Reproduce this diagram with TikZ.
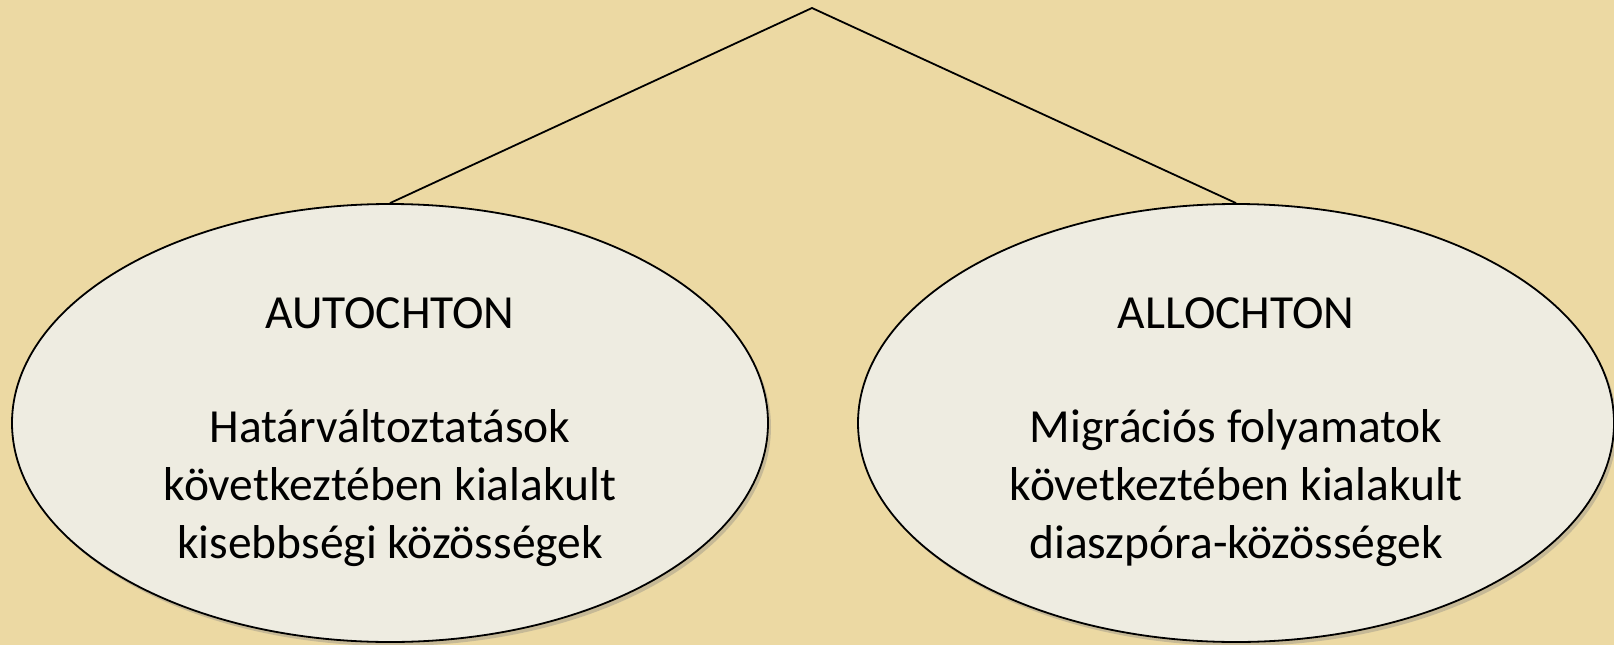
\documentclass[tikz,border=0pt]{standalone}
\usepackage{fontspec}
\setmainfont{Carlito}
\usetikzlibrary{shapes.geometric,shadows}
\definecolor{papyrus}{RGB}{236,217,163}
\definecolor{paper}{RGB}{238,236,225}
\tikzset{
  blob/.style={draw=black,line width=1.8pt,ellipse,fill=paper,minimum width=756pt,minimum height=438pt,inner sep=0pt,
    drop shadow={opacity=0.35,shadow xshift=3pt,shadow yshift=-4pt}},
  txt/.style={align=center,inner sep=0pt,font=\fontsize{47.5}{58}\selectfont},
  branch/.style={line width=1.8pt}
}
\begin{document}
\begin{tikzpicture}[x=1pt,y=-1pt]
\fill[papyrus] (0,0) rectangle (1614,645);
\useasboundingbox (0,0) rectangle (1614,645);

\coordinate (T) at (812,8);
\node(Au)[blob] at (390,423) {};
\node(Al)[blob] at (1236,423) {};

\draw[branch] (Au.north) -- (T) -- (Al.north);

\node(AuT)[txt] at ([yshift=-9.5pt]Au.center) {AUTOCHTON\\[56pt]Határváltoztatások\\következtében kialakult\\kisebbségi közösségek};
\node(AlT)[txt] at ([yshift=-9.5pt]Al.center) {ALLOCHTON\\[56pt]Migrációs folyamatok\\következtében kialakult\\diaszpóra-közösségek};

\end{tikzpicture}
\end{document}
